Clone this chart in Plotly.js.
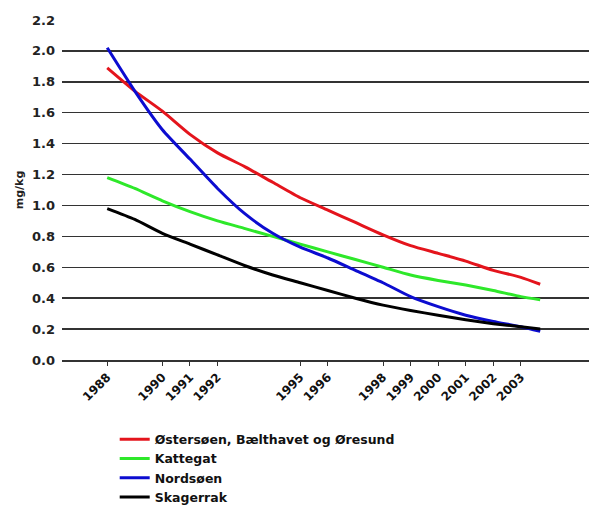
<!DOCTYPE html>
<html>
<head>
<meta charset="utf-8">
<script src="https://cdn.plot.ly/plotly-3.0.1.min.js"></script>
<style>html,body{margin:0;padding:0;background:#fff;}#chart{width:589px;height:509px;}</style>
</head>
<body>
<div id="chart"></div>
<script>
const years = [1988,1989,1990,1991,1992,1993,1994,1995,1996,1997,1998,1999,2000,2001,2002,2003,2003.7];
const ostersoen = [1.89,1.74,1.61,1.46,1.34,1.25,1.15,1.05,0.97,0.89,0.81,0.74,0.69,0.64,0.58,0.535,0.49];
const kattegat  = [1.18,1.11,1.03,0.96,0.90,0.85,0.80,0.75,0.70,0.65,0.60,0.55,0.515,0.485,0.45,0.41,0.39];
const nordsoen  = [2.02,1.74,1.49,1.30,1.11,0.945,0.82,0.73,0.66,0.58,0.50,0.41,0.345,0.29,0.25,0.215,0.185];
const skagerrak = [0.98,0.91,0.82,0.75,0.68,0.61,0.55,0.50,0.45,0.40,0.355,0.32,0.29,0.26,0.235,0.215,0.2];
const seriesNames = ["Østersøen, Bælthavet og Øresund","Kattegat","Nordsøen","Skagerrak"];
const tickYears = [1988,1990,1991,1992,1995,1996,1998,1999,2000,2001,2002,2003];

const colors = ["#e4141c","#2ee82a","#0c0cd0","#000000"];
const all = [ostersoen,kattegat,nordsoen,skagerrak];
const traces = all.map((vals,i)=>({
  x: years, y: vals, name: seriesNames[i], type: 'scatter', mode: 'lines',
  line: {color: colors[i], width: 3, shape: 'spline', smoothing: 0.6}
}));
const fam = 'DejaVu Sans, Verdana, sans-serif';
const layout = {
  width: 589, height: 509,
  margin: {l: 62, r: 0, t: 20, b: 149},
  paper_bgcolor: '#fff', plot_bgcolor: '#fff',
  showlegend: true,
  legend: {x: 0.1, xanchor: 'left', yref: 'container', y: 0.166, yanchor: 'top',
           font: {family: fam, size: 12.5, color: '#111', weight: 'bold'},
           tracegroupgap: 0, itemwidth: 30, bgcolor: 'rgba(0,0,0,0)'},
  xaxis: {range: [1986.36, 2005.47], tickvals: tickYears, ticktext: tickYears.map(String),
          tickangle: -45, tickfont: {family: fam, size: 12, color: '#111', weight: 'bold'},
          ticks: 'outside', ticklen: 4, tickcolor: '#333', automargin: false,
          showgrid: false, zeroline: false, showline: true, linecolor: '#333', linewidth: 1.5,
          fixedrange: true},
  yaxis: {range: [0, 2.2], dtick: 0.2, tickformat: '.1f',
          tickfont: {family: fam, size: 13, color: '#222', weight: 'bold'}, automargin: false,
          showgrid: true, gridcolor: '#333', gridwidth: 1.5, zeroline: false, showline: false,
          ticks: '', ticklabelstandoff: 6,
          title: {text: 'mg/kg', font: {family: fam, size: 11, color: '#222', weight: 'bold'}, standoff: 6},
          fixedrange: true}
};
Plotly.newPlot('chart', traces, layout, {displayModeBar: false, staticPlot: true});
</script>
</body>
</html>
